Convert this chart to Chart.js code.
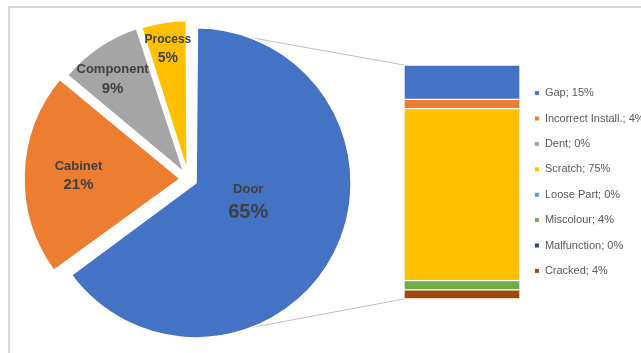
<!DOCTYPE html>
<html>
<head>
<meta charset="utf-8">
<script src="https://cdn.jsdelivr.net/npm/chart.js@4.4.1/dist/chart.umd.min.js"></script>
<style>
  body { margin: 0; background: #fff; overflow: hidden; }
  #wrap { position: relative; width: 641px; height: 353px; overflow: hidden; background: #fff; }
  #frame { position: absolute; left: 8px; top: 6px; width: 700px; height: 400px; border: 2px solid #d9d9d9; box-sizing: border-box; }
  canvas { position: absolute; left: 0; top: 0; }
</style>
</head>
<body>
<div id="wrap">
  <div id="frame"></div>
  <canvas id="barChart" width="641" height="353"></canvas>
  <canvas id="pieChart" width="641" height="353"></canvas>
</div>
<script>
// Pie: defects by area
const areas = ['Door', 'Cabinet', 'Component', 'Process'];
const areaShares = [65, 21, 9, 5];
const areaColors = ['#4472C4', '#ED7D31', '#A5A5A5', '#FFC000'];

// Bar: what the Door slice is made of
const doorDefects = ['Gap', 'Incorrect Install.', 'Dent', 'Scratch', 'Loose Part', 'Miscolour', 'Malfunction', 'Cracked'];
const doorShares = [15, 4, 0, 75, 0, 4, 0, 4];
const defectColors = ['#4472C4', '#ED7D31', '#A5A5A5', '#FFC000', '#5B9BD5', '#70AD47', '#264478', '#9E480E'];

const FONT = '"Liberation Sans", Arial, sans-serif';
const explode = 8.5;      // how far every slice is pulled out, px
const pieRadius = 155;
const sliceRadius = [155, 156, 151, 150];   // the small slices sit a bit inside in the original

// label placement inside the slices: fraction of radius, turn from mid angle (deg), text sizes
const labelDist = [0.41, 0.71, 0.81, 0.85];
const labelTurn = [-7, 0, -3, 0];
const nameSize = [13, 13, 13, 12];
const pctSize = [20, 15, 15, 14];
const lineGap = [23, 18, 19, 19];

// Chart.js grows each exploded arc by a part of its offset; take that back out
const evenRadius = {
    id: 'evenRadius',
    beforeDatasetsDraw(chart) {
        chart.getDatasetMeta(0).data.forEach((arc, i) => {
            const fix = 1 - Math.sin(Math.min(Math.PI, arc.circumference));
            arc.outerRadius = sliceRadius[i] - explode * fix;
        });
    }
};

// Draw "name / xx%" labels on the pie slices
const pieLabels = {
    id: 'pieLabels',
    afterDatasetsDraw(chart) {
        const ctx = chart.ctx;
        const arcs = chart.getDatasetMeta(0).data;
        ctx.save();
        ctx.fillStyle = '#404040';
        ctx.textAlign = 'center';
        ctx.textBaseline = 'middle';
        arcs.forEach((arc, i) => {
            const mid = (arc.startAngle + arc.endAngle) / 2 + labelTurn[i] * Math.PI / 180;
            const d = pieRadius * labelDist[i];
            const x = arc.x + Math.cos(mid) * d;
            const y = arc.y + Math.sin(mid) * d;
            ctx.font = 'bold ' + nameSize[i] + 'px ' + FONT;
            ctx.fillText(areas[i], x, y - lineGap[i] / 2);
            ctx.font = 'bold ' + pctSize[i] + 'px ' + FONT;
            ctx.fillText(areaShares[i] + '%', x, y + lineGap[i] / 2);
        });
        ctx.restore();
    }
};

const pie = new Chart(document.getElementById('pieChart').getContext('2d'), {
    type: 'pie',
    data: {
        labels: areas,
        datasets: [{
            data: areaShares,
            backgroundColor: areaColors,
            borderColor: '#ffffff',
            borderWidth: 1.5,
            offset: explode * 4,
            radius: pieRadius - explode,
        }],
    },
    options: {
        responsive: false,
        animation: false,
        devicePixelRatio: 1,
        layout: { padding: { left: 0, right: 264, top: 10, bottom: 5 } },
        plugins: {
            legend: { display: false },
            tooltip: { enabled: false },
        },
    },
    plugins: [evenRadius, pieLabels],
});

const total = doorShares.reduce((a, b) => a + b, 0);

// Grey series lines from the top / bottom of the Door slice to the bar
const seriesLines = {
    id: 'seriesLines',
    beforeDatasetsDraw(chart) {
        const door = pie.getDatasetMeta(0).data[0];
        const mid = (door.startAngle + door.endAngle) / 2;
        const cx = door.x + Math.cos(mid) * explode;
        const cy = door.y + Math.sin(mid) * explode;
        const bar = chart.getDatasetMeta(0).data[0];
        const left = bar.x - bar.width / 2;
        const top = chart.scales.y.getPixelForValue(0);
        const bottom = chart.scales.y.getPixelForValue(total);
        const ctx = chart.ctx;
        ctx.save();
        ctx.strokeStyle = '#bfbfbf';
        ctx.lineWidth = 1;
        ctx.beginPath();
        ctx.moveTo(cx, cy - sliceRadius[0]);
        ctx.lineTo(left, top);
        ctx.moveTo(cx, cy + sliceRadius[0]);
        ctx.lineTo(left, bottom);
        ctx.stroke();
        ctx.restore();
    }
};

new Chart(document.getElementById('barChart').getContext('2d'), {
    type: 'bar',
    data: {
        labels: ['Door'],
        datasets: doorDefects.map((name, i) => ({
            label: name + '; ' + doorShares[i] + '%',
            data: [doorShares[i]],
            backgroundColor: defectColors[i],
            borderColor: '#ffffff',
            borderWidth: 1,
            borderSkipped: false,
            barPercentage: 1,
            categoryPercentage: 1,
        })),
    },
    options: {
        responsive: false,
        animation: false,
        devicePixelRatio: 1,
        layout: { padding: { left: 404, right: 0, top: 65, bottom: 54 } },
        scales: {
            x: { stacked: true, display: false },
            y: { stacked: true, display: false, reverse: true, min: 0, max: total },
        },
        plugins: {
            legend: {
                position: 'right',
                maxWidth: 121,
                labels: {
                    boxWidth: 5,
                    boxHeight: 5,
                    padding: 14.4,
                    color: '#595959',
                    font: { family: FONT, size: 11 },
                },
            },
            tooltip: { enabled: false },
        },
    },
    plugins: [seriesLines],
});
</script>
</body>
</html>
